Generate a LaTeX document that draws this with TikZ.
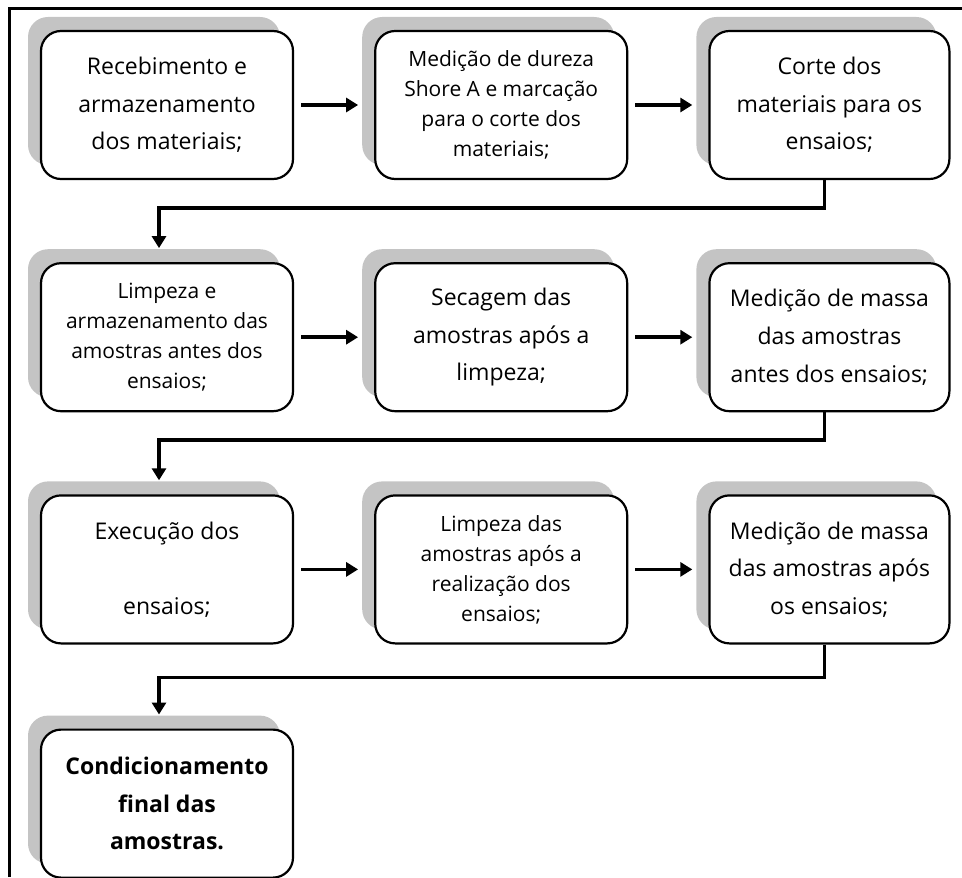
\documentclass[tikz,border=0pt]{standalone}
\usepackage{fontspec}
\setmainfont{Open Sans}
\usepackage{tikz}
\usetikzlibrary{positioning, shadows, arrows.meta}
\tikzstyle{stepbox} = [rectangle, rounded corners=10pt, minimum width=126pt, minimum height=74pt, text centered, align=center, draw=black, line width=1.1pt, fill=white, general shadow={fill=black!23, shadow xshift=-6.5pt, shadow yshift=7pt}]
\tikzstyle{bigtext} = [font=\fontsize{11.5pt}{18.8pt}\selectfont]
\tikzstyle{smalltext} = [font=\fontsize{10.5pt}{15pt}\selectfont]
\tikzstyle{arrow} = [line width=1.9pt, -{Triangle[length=6pt,width=7pt]}, shorten <=3.5pt, shorten >=8pt]
\tikzstyle{elbow} = [line width=1.9pt, -{Triangle[length=6pt,width=7pt]}, shorten >=7pt]

\begin{document}
\begin{tikzpicture}[node distance=40pt]

   \useasboundingbox (0,0) rectangle (481pt,-438.5pt);
   \draw [line width=1.2pt] (4.75pt,-438.5pt) |- (481pt,-4.2pt);

   \node (receb) [stepbox, bigtext] at (83.5pt,-52.5pt) {Recebimento e\\armazenamento\\dos materiais;};
   \node (dureza) [stepbox, smalltext, right=of receb] {Medição de dureza\\Shore A e marcação\\para o corte dos\\materiais;};
   \node (corte) [stepbox, bigtext, minimum width=120pt, right=of dureza] {Corte dos\\materiais para os\\ensaios;};

   \node (limpeza) [stepbox, smalltext, below=41pt of receb] {Limpeza e\\armazenamento das\\amostras antes dos\\ensaios;};
   \node (secagem) [stepbox, bigtext, right=of limpeza] {Secagem das\\amostras após a\\limpeza;};
   \node (massaantes) [stepbox, bigtext, minimum width=120pt, right=of secagem] {Medição de massa\\das amostras\\antes dos ensaios;};

   \node (execucao) [stepbox, bigtext, below=41pt of limpeza] {Execução dos\\[18.8pt]ensaios;};
   \node (limpezapos) [stepbox, smalltext, right=of execucao] {Limpeza das\\amostras após a\\realização dos\\ensaios;};
   \node (massaapos) [stepbox, bigtext, minimum width=120pt, right=of limpezapos] {Medição de massa\\das amostras após\\os ensaios;};

   \node (condic) [stepbox, font=\fontsize{11.5pt}{18.8pt}\selectfont\bfseries, below=42pt of execucao] {Condicionamento\\final das\\amostras.};

   \draw [arrow] (receb) -- (dureza);
   \draw [arrow] (dureza) -- (corte);
   \draw [arrow] (limpeza) -- (secagem);
   \draw [arrow] (secagem) -- (massaantes);
   \draw [arrow] (execucao) -- (limpezapos);
   \draw [arrow] (limpezapos) -- (massaapos);
   \draw [elbow] ([xshift=-2.5pt]corte.south) -- ++(0,-14pt) -| ([xshift=-4pt]limpeza.north);
   \draw [elbow] ([xshift=-2.5pt]massaantes.south) -- ++(0,-14pt) -| ([xshift=-4pt]execucao.north);
   \draw [elbow] ([xshift=-2.5pt]massaapos.south) -- ++(0,-16.5pt) -| ([xshift=-4pt]condic.north);
\end{tikzpicture}
\end{document}
